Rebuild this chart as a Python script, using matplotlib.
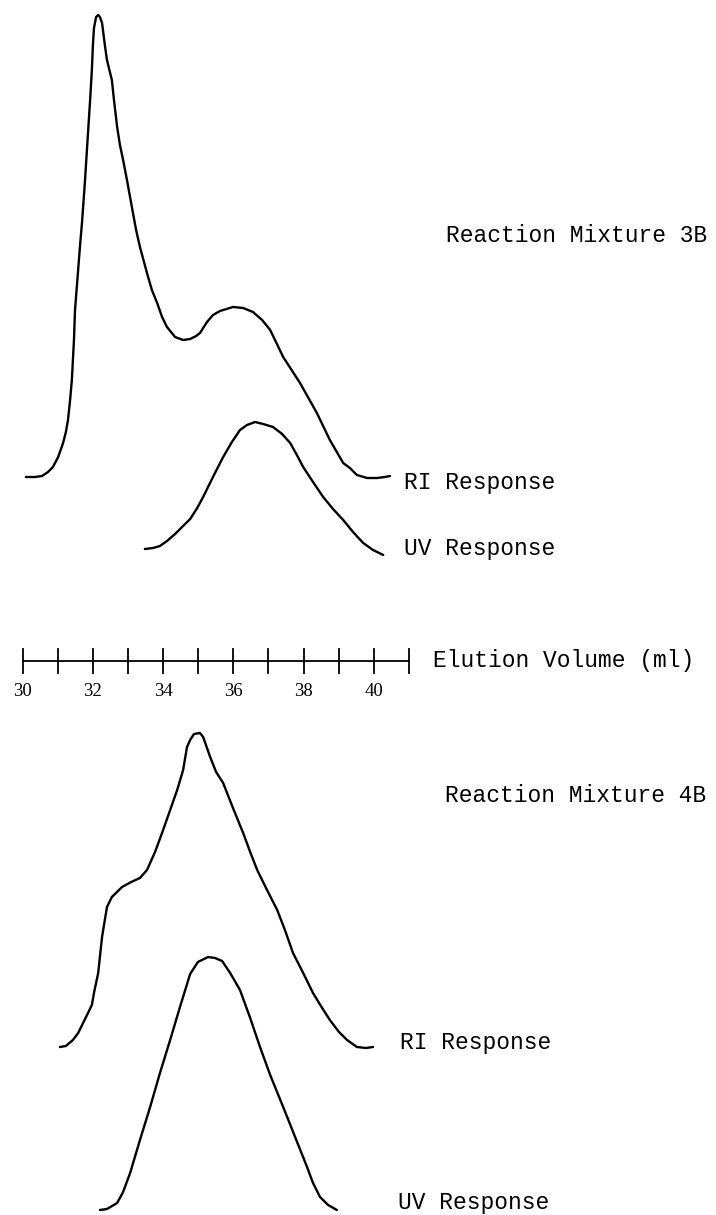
import matplotlib
matplotlib.use("Agg")
import matplotlib.pyplot as plt

# ---------------- data (elution volume in ml, detector response in arbitrary units) ----------------
ri_3b_vol = [30.09, 30.35, 30.55, 30.72, 30.86, 31.01, 31.15, 31.23, 31.29, 31.35,
             31.40, 31.46, 31.49, 31.55, 31.63, 31.69, 31.77, 31.86, 31.92, 31.97,
             32.00, 32.03, 32.09, 32.15, 32.20, 32.26, 32.34, 32.40, 32.54, 32.60,
             32.69, 32.77, 32.86, 32.97, 33.11, 33.23, 33.34, 33.54, 33.68, 33.83,
             33.97, 34.11, 34.34, 34.57, 34.77, 34.94, 35.05, 35.25, 35.42, 35.62,
             35.99, 36.28, 36.56, 36.82, 37.05, 37.42, 37.90, 38.38, 38.75, 39.13,
             39.32, 39.52, 39.81, 40.09, 40.32, 40.46]
ri_3b_resp = [1, 1, 2, 6, 11, 21, 35, 46, 58, 78,
              98, 138, 168, 195, 231, 256, 295, 345, 378, 408,
              433, 450, 461, 463, 461, 455, 433, 418, 398, 378,
              351, 333, 318, 298, 271, 248, 231, 205, 188, 175,
              161, 151, 141, 138, 139, 142, 145, 156, 163, 167,
              171, 170, 166, 158, 148, 121, 95, 65, 38, 15,
              10, 3, 0, 0, 1, 2]

uv_3b_vol = [33.48, 33.71, 33.91, 34.11, 34.34, 34.54, 34.77, 34.97, 35.14, 35.42,
             35.71, 35.96, 36.19, 36.39, 36.62, 36.85, 37.13, 37.39, 37.62, 37.81,
             37.99, 38.27, 38.56, 38.84, 39.13, 39.41, 39.70, 39.98, 40.27]
uv_3b_resp = [6, 7, 9, 14, 21, 28, 36, 47, 58, 78,
              98, 113, 125, 130, 133, 131, 128, 121, 112, 100,
              88, 73, 58, 46, 35, 23, 12, 5, 0]

ri_4b_vol = [31.06, 31.23, 31.43, 31.58, 31.72, 31.86, 31.97, 32.03, 32.15, 32.26,
             32.40, 32.54, 32.83, 33.09, 33.34, 33.54, 33.77, 34.00, 34.20, 34.40,
             34.57, 34.68, 34.77, 34.88, 35.05, 35.14, 35.25, 35.34, 35.51, 35.71,
             35.99, 36.28, 36.48, 36.68, 36.96, 37.25, 37.47, 37.70, 37.99, 38.27,
             38.53, 38.75, 39.01, 39.24, 39.52, 39.78, 39.98]
ri_4b_resp = [1, 2, 8, 15, 25, 35, 43, 55, 75, 111,
              141, 151, 161, 166, 170, 178, 196, 218, 238, 258,
              278, 301, 308, 314, 315, 311, 300, 291, 276, 265,
              240, 215, 196, 178, 158, 138, 118, 95, 75, 55,
              40, 28, 16, 8, 1, 0, 1]

uv_4b_vol = [32.20, 32.40, 32.69, 32.86, 33.06, 33.34, 33.63, 33.91, 34.20, 34.48,
             34.77, 34.99, 35.28, 35.48, 35.68, 35.91, 36.19, 36.48, 36.76, 37.05,
             37.42, 37.76, 38.10, 38.27, 38.47, 38.70, 38.95]
uv_4b_resp = [1, 2, 8, 19, 38, 71, 104, 138, 171, 204,
              237, 249, 254, 253, 250, 238, 221, 193, 164, 136,
              104, 74, 44, 28, 14, 6, 1]

scale_ticks = [30, 31, 32, 33, 34, 35, 36, 37, 38, 39, 40, 41]
scale_labels = ["30", "32", "34", "36", "38", "40"]

panel_titles = ["Reaction Mixture 3B", "Reaction Mixture 4B"]
trace_names = ["RI Response", "UV Response"]
axis_title = "Elution Volume (ml)"

# ---------------- layout ----------------
W, H = 716, 1215
fig = plt.figure(figsize=(W / 100, H / 100), dpi=100)
ax = fig.add_axes([0, 0, 1, 1])
ax.set_xlim(29.353, 49.75)
ax.set_ylim(0, H)
ax.axis("off")

lw = 1.7
style = dict(color="black", lw=lw, solid_capstyle="round", solid_joinstyle="round")
# vertical offsets of each trace baseline (layout only)
off_ri3, off_uv3, off_ri4, off_uv4 = 737, 660, 167, 4

ax.plot(ri_3b_vol, [off_ri3 + r for r in ri_3b_resp], **style)
ax.plot(uv_3b_vol, [off_uv3 + r for r in uv_3b_resp], **style)
ax.plot(ri_4b_vol, [off_ri4 + r for r in ri_4b_resp], **style)
ax.plot(uv_4b_vol, [off_uv4 + r for r in uv_4b_resp], **style)

# scale bar
bar_y = 554
ax.plot([scale_ticks[0], scale_ticks[-1]], [bar_y, bar_y], color="black", lw=1.3)
for t in scale_ticks:
    ax.plot([t, t], [bar_y - 12, bar_y + 12], color="black", lw=1.3)
for lab in scale_labels:
    ax.text(float(lab), bar_y - 30, lab, ha="center", va="center",
            family="Liberation Serif", fontsize=13.5)

mono = dict(family="Liberation Mono", fontsize=16.5, va="center", ha="left", color="black")
def ftext(xpx, ypx, s):
    fig.text(xpx / W, 1 - ypx / H, s, **mono)

ftext(446, 235, panel_titles[0])
ftext(404, 482, trace_names[0])
ftext(404, 548, trace_names[1])
ftext(433, 661, axis_title)
ftext(445, 795, panel_titles[1])
ftext(400, 1042, trace_names[0])
ftext(398, 1202, trace_names[1])

fig.savefig("out.png", dpi=100, facecolor="white")
